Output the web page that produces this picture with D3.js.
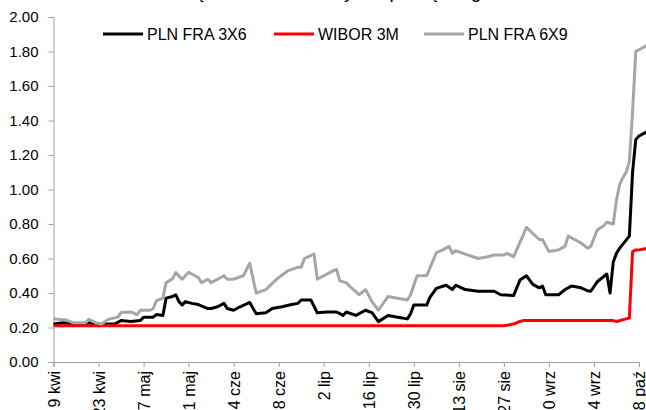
<!DOCTYPE html>
<html>
<head>
<meta charset="utf-8">
<script src="https://cdn.jsdelivr.net/npm/d3@7"></script>
<style>
  body { margin: 0; background: #fff; }
  svg { display: block; }
  text { font-family: "Liberation Sans", Arial, sans-serif; fill: #000; }
</style>
</head>
<body>
<svg id="chart" width="646" height="410"></svg>
<script>
// PLN FRA 3X6 quotes
const fra3x6Dates = ["2021-04-09","2021-04-12","2021-04-15","2021-04-18","2021-04-20","2021-04-22","2021-04-23","2021-04-25","2021-04-28","2021-04-30",
  "2021-05-03","2021-05-06","2021-05-07","2021-05-10","2021-05-11","2021-05-13","2021-05-14","2021-05-16","2021-05-17","2021-05-18","2021-05-19","2021-05-20","2021-05-22","2021-05-24","2021-05-27","2021-05-28","2021-05-30",
  "2021-06-01","2021-06-02","2021-06-04","2021-06-06","2021-06-09","2021-06-11","2021-06-14","2021-06-16","2021-06-19","2021-06-22","2021-06-24","2021-06-25","2021-06-28","2021-06-30",
  "2021-07-03","2021-07-06","2021-07-08","2021-07-09","2021-07-12","2021-07-15","2021-07-17","2021-07-19","2021-07-22","2021-07-25","2021-07-28","2021-07-29","2021-07-30",
  "2021-08-03","2021-08-04","2021-08-06","2021-08-09","2021-08-11","2021-08-12","2021-08-15","2021-08-19","2021-08-22","2021-08-24","2021-08-26","2021-08-30",
  "2021-09-01","2021-09-03","2021-09-05","2021-09-07","2021-09-08","2021-09-09","2021-09-13","2021-09-15","2021-09-17","2021-09-20","2021-09-22","2021-09-23","2021-09-25","2021-09-28","2021-09-29","2021-09-30",
  "2021-10-01","2021-10-02","2021-10-05","2021-10-06","2021-10-07","2021-10-08","2021-10-11"];
const fra3x6Values = [0.22,0.228,0.22,0.214,0.228,0.214,0.21,0.22,0.22,0.24,
  0.235,0.24,0.26,0.26,0.275,0.27,0.37,0.38,0.39,0.35,0.33,0.35,0.34,0.333,0.31,0.31,0.32,
  0.34,0.31,0.30,0.32,0.345,0.28,0.285,0.31,0.32,0.333,0.34,0.36,0.36,0.285,
  0.29,0.29,0.27,0.29,0.27,0.30,0.286,0.234,0.27,0.26,0.25,0.28,0.33,
  0.33,0.375,0.427,0.445,0.42,0.445,0.42,0.41,0.41,0.41,0.39,0.385,
  0.475,0.50,0.45,0.43,0.44,0.39,0.39,0.42,0.44,0.43,0.413,0.41,0.465,0.51,0.40,0.58,
  0.63,0.66,0.73,1.10,1.29,1.31,1.34];

// WIBOR 3M fixing
const wiborDates = ["2021-04-09","2021-05-21","2021-07-02","2021-08-13","2021-08-27","2021-08-30","2021-09-01","2021-09-02","2021-09-30",
  "2021-10-01","2021-10-04","2021-10-05","2021-10-06","2021-10-07","2021-10-08","2021-10-11"];
const wiborValues = [0.21,0.21,0.21,0.21,0.21,0.22,0.235,0.24,0.24,
  0.235,0.25,0.255,0.64,0.65,0.65,0.66];

// PLN FRA 6X9 quotes
const fra6x9Dates = ["2021-04-09","2021-04-13","2021-04-15","2021-04-19","2021-04-20","2021-04-22","2021-04-24","2021-04-26","2021-04-29","2021-04-30",
  "2021-05-03","2021-05-05","2021-05-06","2021-05-09","2021-05-10","2021-05-11","2021-05-13","2021-05-14","2021-05-16","2021-05-17","2021-05-19","2021-05-21","2021-05-23","2021-05-24","2021-05-25","2021-05-27","2021-05-28","2021-05-30",
  "2021-06-01","2021-06-02","2021-06-04","2021-06-07","2021-06-09","2021-06-11","2021-06-14","2021-06-16","2021-06-18","2021-06-21","2021-06-24","2021-06-25","2021-06-26","2021-06-29","2021-06-30",
  "2021-07-05","2021-07-06","2021-07-07","2021-07-09","2021-07-10","2021-07-13","2021-07-15","2021-07-17","2021-07-19","2021-07-22","2021-07-25","2021-07-28","2021-07-29","2021-07-31",
  "2021-08-03","2021-08-06","2021-08-08","2021-08-10","2021-08-11","2021-08-12","2021-08-15","2021-08-19","2021-08-22","2021-08-24","2021-08-27","2021-08-28","2021-08-30",
  "2021-09-02","2021-09-03","2021-09-07","2021-09-08","2021-09-10","2021-09-13","2021-09-15","2021-09-16","2021-09-20","2021-09-22","2021-09-23","2021-09-25","2021-09-27","2021-09-28","2021-09-30",
  "2021-10-01","2021-10-02","2021-10-03","2021-10-04","2021-10-05","2021-10-06","2021-10-07","2021-10-08","2021-10-11"];
const fra6x9Values = [0.25,0.243,0.228,0.228,0.247,0.228,0.22,0.247,0.26,0.287,
  0.29,0.275,0.30,0.30,0.31,0.355,0.37,0.46,0.483,0.518,0.48,0.52,0.50,0.49,0.46,0.48,0.46,0.48,
  0.50,0.48,0.48,0.50,0.572,0.40,0.42,0.456,0.49,0.53,0.55,0.55,0.60,0.626,0.48,
  0.53,0.536,0.47,0.46,0.44,0.39,0.42,0.35,0.30,0.38,0.37,0.36,0.39,0.50,
  0.50,0.634,0.65,0.67,0.63,0.645,0.625,0.60,0.61,0.62,0.62,0.63,0.61,
  0.736,0.78,0.71,0.71,0.64,0.65,0.67,0.73,0.69,0.66,0.67,0.765,0.79,0.81,0.80,
  0.94,1.03,1.07,1.10,1.16,1.45,1.80,1.81,1.84];

// axis ticks
const xTickDates = ["2021-04-09","2021-04-23","2021-05-07","2021-05-21","2021-06-04","2021-06-18","2021-07-02",
  "2021-07-16","2021-07-30","2021-08-13","2021-08-27","2021-09-10","2021-09-24","2021-10-08"];
const xTickLabels = ["9 kwi","23 kwi","7 maj","21 maj","4 cze","18 cze","2 lip","16 lip","30 lip","13 sie","27 sie","10 wrz","24 wrz","8 paź"];
const yTicks = [0, 0.2, 0.4, 0.6, 0.8, 1.0, 1.2, 1.4, 1.6, 1.8, 2.0];

const titleText = "Rosnące oczekiwania rynku pieniężnego.";
const seriesNames = ["PLN FRA 3X6", "WIBOR 3M", "PLN FRA 6X9"];
const seriesColors = ["#000000", "#ff0000", "#a6a6a6"];

const parse = d3.timeParse("%Y-%m-%d");
const svg = d3.select("#chart");

const x = d3.scaleTime()
  .domain([parse(xTickDates[0]), parse(xTickDates[xTickDates.length - 1])])
  .range([53.5, 639]);
const y = d3.scaleLinear().domain([0, 2]).range([362, 17]);

// title (sits at the top edge of the frame)
svg.append("text")
  .attr("x", 323).attr("y", -2)
  .attr("text-anchor", "middle")
  .style("font-size", "19px")
  .text(titleText);

// y axis
const yAxis = svg.append("g")
  .attr("transform", "translate(53.5,0)")
  .call(d3.axisLeft(y).tickValues(yTicks).tickFormat(d3.format(".2f")).tickSize(5).tickPadding(10));
yAxis.selectAll("text").style("font-size", "15px").attr("fill", "#000");

// x axis
const xLabelByTime = new Map(xTickDates.map((d, i) => [parse(d).getTime(), xTickLabels[i]]));
const xAxis = svg.append("g")
  .attr("transform", "translate(0,362)")
  .call(d3.axisBottom(x).tickValues(xTickDates.map(parse))
    .tickFormat(d => xLabelByTime.get(d.getTime())).tickSize(5));
xAxis.selectAll("text")
  .style("font-size", "16px")
  .attr("fill", "#000")
  .attr("text-anchor", "end")
  .attr("transform", "rotate(-90)")
  .attr("x", -9).attr("y", 0).attr("dy", "0.36em");

svg.selectAll(".domain, .tick line").attr("stroke", "#a0a0a0").attr("stroke-width", 1);

// series lines
const line = d3.line().x(d => x(d[0])).y(d => y(d[1]));
const seriesData = [
  d3.zip(fra3x6Dates.map(parse), fra3x6Values),
  d3.zip(wiborDates.map(parse), wiborValues),
  d3.zip(fra6x9Dates.map(parse), fra6x9Values)
];
seriesData.forEach((pts, i) => {
  svg.append("path")
    .datum(pts)
    .attr("fill", "none")
    .attr("stroke", seriesColors[i])
    .attr("stroke-width", 3)
    .attr("stroke-linejoin", "round")
    .attr("d", line);
});

// legend
const legendX = [103, 274, 424];
const legend = svg.append("g");
seriesNames.forEach((name, i) => {
  legend.append("line")
    .attr("x1", legendX[i]).attr("x2", legendX[i] + 40)
    .attr("y1", 34).attr("y2", 34)
    .attr("stroke", seriesColors[i]).attr("stroke-width", 3);
  legend.append("text")
    .attr("x", legendX[i] + 44).attr("y", 34).attr("dy", "0.36em")
    .style("font-size", "16px")
    .text(name);
});
</script>
</body>
</html>
